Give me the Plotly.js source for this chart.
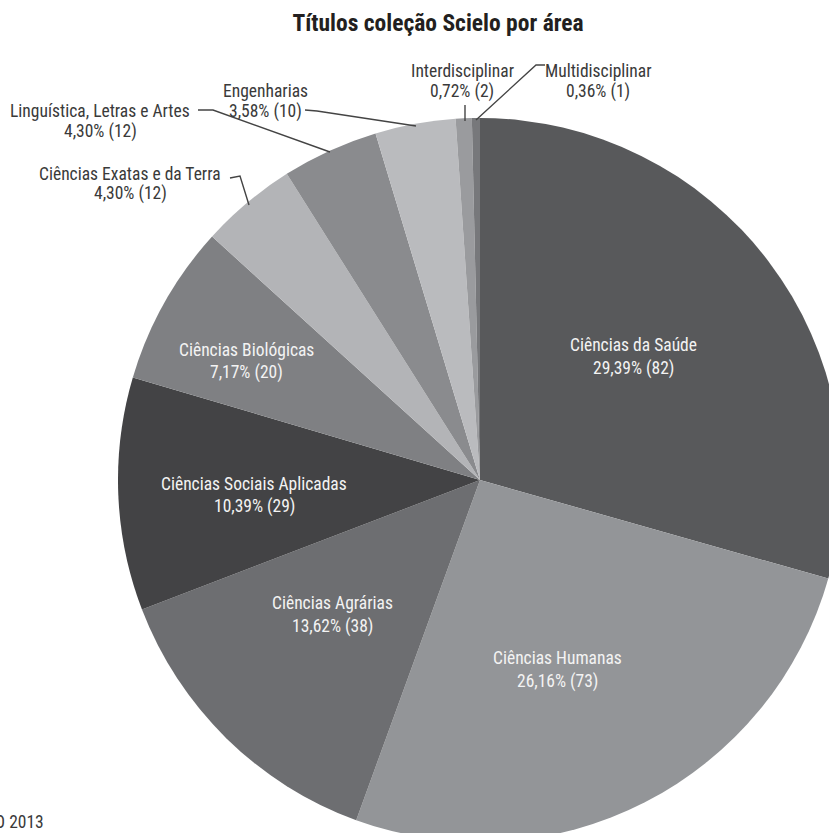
<!DOCTYPE html>
<html>
<head>
<meta charset="utf-8">
<script src="https://cdn.plot.ly/plotly-3.0.1.min.js"></script>
<style>
  html, body { margin: 0; padding: 0; overflow: hidden; background: #ffffff; }
  #chart { position: absolute; left: 0; top: 0; width: 960px; height: 960px; }
</style>
</head>
<body>
<div id="chart"></div>
<script>
// ---- data ----
const categories = [
  'Ciências da Saúde',
  'Ciências Humanas',
  'Ciências Agrárias',
  'Ciências Sociais Aplicadas',
  'Ciências Biológicas',
  'Ciências Exatas e da Terra',
  'Linguística, Letras e Artes',
  'Engenharias',
  'Interdisciplinar',
  'Multidisciplinar'
];
const counts = [82, 73, 38, 29, 20, 12, 12, 10, 2, 1];
const chartTitle = 'Títulos coleção Scielo por área';
const sourceNote = 'Fonte: SciELO 2013';

// ---- styles ----
const sliceColors = ['#58595b', '#939598', '#6d6e71', '#434345', '#7f8083',
                     '#b3b4b7', '#8a8b8e', '#babbbe', '#9a9b9e', '#77787b'];

// pick the narrowest installed font
const ctx = document.createElement('canvas').getContext('2d');
function measure(fam, txt, weight) {
  ctx.font = (weight || 'normal') + ' 100px ' + fam;
  return ctx.measureText(txt).width;
}
function installed(name) {
  const probe = 'mmmmmwwwwiiiilll ÁéçÍ 0123';
  return ['monospace', 'serif'].some(fb =>
    Math.abs(measure('"' + name + '", ' + fb, probe) - measure(fb, probe)) > 0.5);
}
const candidates = ['Roboto Condensed', 'Liberation Sans Narrow', 'Nimbus Sans Narrow',
                    'Arial Narrow', 'DejaVu Sans Condensed', 'Liberation Sans'];
const chosen = candidates.find(installed) || 'sans-serif';
const FONT = '"' + chosen + '", sans-serif';
// size fonts so text widths match the reference
const labelSize = Math.min(19, Math.round(10 * 186 / measure(FONT, 'Ciências Sociais Aplicadas') * 100) / 10);
const titleSize = Math.min(24, Math.round(10 * 291 / measure(FONT, chartTitle, 'bold') * 100) / 10);

// label placement (pixel layout, per slice): [centerX, line1Y, line2Y, inside?]
const labelLayout = [
  [633, 345, 368, true],
  [557, 658, 681, true],
  [332, 603, 626, true],
  [254, 484, 507, true],
  [246, 350, 372, true],
  [130, 174, 194, false],
  [100, 111, 131, false],
  [265, 91, 111, false],
  [462, 71, 92, false],
  [598, 71, 92, false]
];
// connector polylines for outside labels (pixel layout)
const connectorPaths = {
  5: [[230, 178], [240, 176], [249, 205]],
  6: [[198, 110], [213, 110], [330, 152]],
  7: [[305, 110], [317, 111], [416, 126]],
  8: [[465, 105], [465, 121]],
  9: [[545, 65], [536, 65], [476, 120]]
};

// ---- geometry helpers (div 960x960, plot area 724x724 from 118) ----
const M = 118, P = 724;
const px2x = px => (px - M) / P;
const py2y = py => (M + P - py) / P;

const total = counts.reduce((a, b) => a + b, 0);
const pctText = v => (v / total * 100).toFixed(2).replace('.', ',') + '% (' + v + ')';

const annotations = [];
categories.forEach((cat, i) => {
  const [cx, y1, y2, inside] = labelLayout[i];
  const color = inside ? '#f3f3f3' : '#3a3a3a';
  [[cat, y1], [pctText(counts[i]), y2]].forEach(([t, y]) => {
    annotations.push({
      text: t, showarrow: false, xref: 'paper', yref: 'paper',
      x: px2x(cx), y: py2y(y), xanchor: 'center', yanchor: 'middle',
      font: {family: FONT, size: labelSize, color: color}
    });
  });
});
annotations.push({
  text: sourceNote, showarrow: false, xref: 'paper', yref: 'paper',
  x: px2x(46), y: py2y(822), xanchor: 'right', yanchor: 'middle',
  font: {family: FONT, size: labelSize, color: '#3a3a3a'}
});

const shapes = Object.keys(connectorPaths).map(k => {
  const pts = connectorPaths[k];
  const d = pts.map((p, j) => (j ? 'L' : 'M') + px2x(p[0]).toFixed(5) + ',' + py2y(p[1]).toFixed(5)).join(' ');
  return {type: 'path', xref: 'paper', yref: 'paper', path: d,
          line: {color: '#444444', width: 1.4}};
});

const trace = {
  type: 'pie',
  labels: categories,
  values: counts,
  sort: false,
  direction: 'clockwise',
  rotation: 0,
  textinfo: 'none',
  hoverinfo: 'label+value+percent',
  marker: {colors: sliceColors, line: {width: 0}},
  showlegend: false,
  domain: {x: [0, 1], y: [0, 1]}
};

const layout = {
  width: 960, height: 960,
  margin: {l: M, r: M, t: M, b: M, pad: 0},
  paper_bgcolor: '#ffffff',
  separators: ',.',
  showlegend: false,
  title: {
    text: '<b>' + chartTitle + '</b>',
    font: {family: FONT, size: titleSize, color: '#231f20'},
    xref: 'paper', x: px2x(438), xanchor: 'center',
    yref: 'container', y: 1 - 23 / 960, yanchor: 'middle'
  },
  annotations: annotations,
  shapes: shapes
};

Plotly.newPlot('chart', [trace], layout, {displayModeBar: false, staticPlot: true});
</script>
</body>
</html>
